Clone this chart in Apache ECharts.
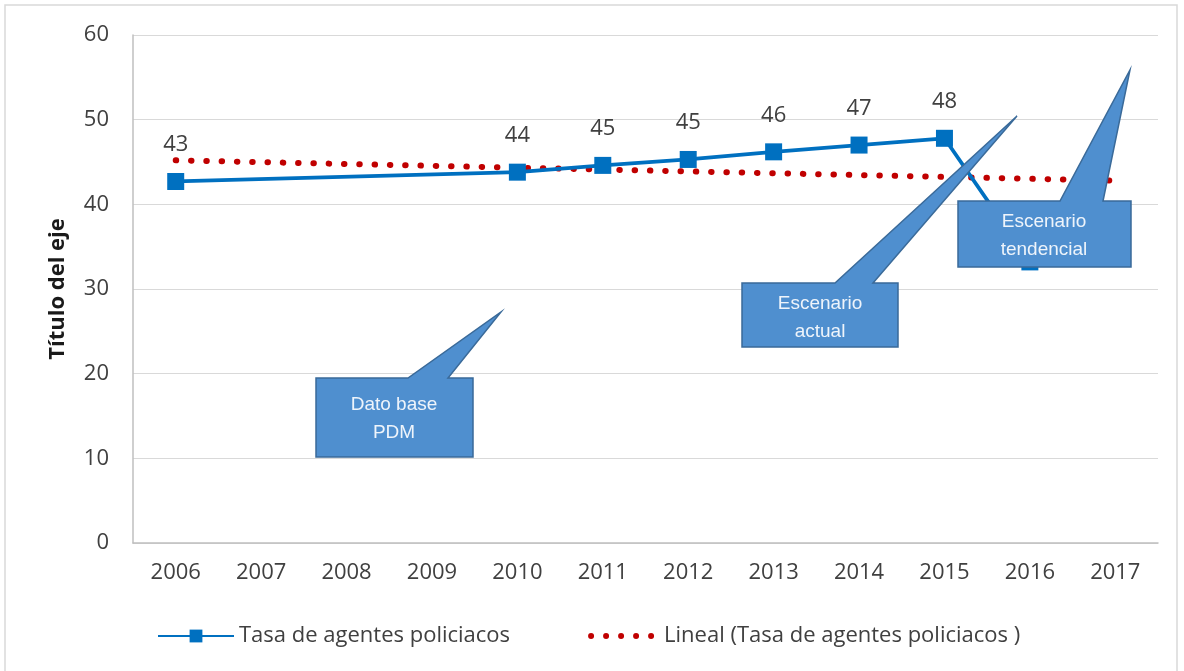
<!DOCTYPE html>
<html>
<head>
<meta charset="utf-8">
<script src="https://cdn.jsdelivr.net/npm/echarts@6/dist/echarts.min.js"></script>
<style>
  html, body { margin: 0; padding: 0; background: #fff; }
  #chart { width: 1184px; height: 671px; }
</style>
</head>
<body>
<div id="chart"></div>
<script>
var years = ['2006', '2007', '2008', '2009', '2010', '2011', '2012', '2013', '2014', '2015', '2016', '2017'];
var tasa = [42.7, null, null, null, 43.8, 44.6, 45.3, 46.2, 47.0, 47.8, 33.2, null];
// linear trend, read at both ends of the axis
var trendYears = ['2006', '2017'];
var trendValues = [45.2, 42.8];
var yTicks = { min: 0, max: 60, interval: 10 };

var chart = echarts.init(document.getElementById('chart'));

var mainFont = '"Open Sans", sans-serif';
var calloutFill = '#4f8fcf';
var calloutStroke = '#3a6a99';
var calloutFont = '"Liberation Sans Narrow", "Arial Narrow", "Liberation Sans", sans-serif';

function callout(points, cx, cy, text) {
    return {
        type: 'group',
        children: [{
            type: 'polygon',
            z: 100,
            shape: { points: points },
            style: { fill: calloutFill, stroke: calloutStroke, lineWidth: 1.5 }
        }, {
            type: 'text',
            z: 101,
            x: cx,
            y: cy,
            style: {
                text: text,
                fill: '#eef4fb',
                font: '19px ' + calloutFont,
                align: 'center',
                verticalAlign: 'middle',
                lineHeight: 28
            }
        }]
    };
}

// five red dots for the trend legend icon (the two moves fix its box)
var dotIcon = 'path://M0,0 M74,16';
[7, 22, 37, 52, 67].forEach(function(cx) {
    dotIcon += ' M' + (cx - 3) + ',8 a3,3 0 1,0 6,0 a3,3 0 1,0 -6,0 Z';
});

var trendData = trendYears.map(function(y, i) { return [y, trendValues[i]]; });

var option = {
    animation: false,
    textStyle: { fontFamily: mainFont },
    grid: { left: 133, right: 26, top: 35, bottom: 128 },
    legend: {
        left: 152,
        top: 620,
        itemWidth: 76,
        itemHeight: 16,
        itemGap: 74,
        textStyle: { fontSize: 22, color: '#404040', fontFamily: mainFont },
        data: [
            { name: 'Tasa de agentes policiacos' },
            { name: 'Lineal (Tasa de agentes policiacos )', icon: dotIcon, itemStyle: { color: '#c00000' } }
        ]
    },
    xAxis: {
        type: 'category',
        data: years,
        axisLine: { lineStyle: { color: '#bfbfbf', width: 1.5 } },
        axisTick: { show: false },
        axisLabel: { color: '#404040', fontSize: 22, margin: 19 }
    },
    yAxis: {
        type: 'value',
        min: yTicks.min,
        max: yTicks.max,
        interval: yTicks.interval,
        name: 'Título del eje',
        nameLocation: 'middle',
        nameGap: 64,
        nameTextStyle: { fontSize: 22, fontWeight: 'bold', color: '#1a1a1a', fontFamily: mainFont },
        axisLine: { show: true, lineStyle: { color: '#bfbfbf', width: 1.5 } },
        axisTick: { show: false },
        axisLabel: { color: '#404040', fontSize: 22, margin: 24 },
        splitLine: { lineStyle: { color: '#d9d9d9', width: 1.2 } }
    },
    series: [{
        name: 'Tasa de agentes policiacos',
        type: 'line',
        data: tasa,
        connectNulls: true,
        symbol: 'rect',
        symbolSize: 17,
        itemStyle: { color: '#0070c0' },
        lineStyle: { color: '#0070c0', width: 3.8 },
        label: {
            show: true,
            position: 'top',
            distance: 17,
            fontSize: 22,
            color: '#404040',
            formatter: function(p) { return Math.round(p.value); }
        },
        z: 3
    }, {
        name: 'Lineal (Tasa de agentes policiacos )',
        type: 'line',
        data: trendData,
        symbol: 'none',
        itemStyle: { color: '#c00000' },
        lineStyle: { color: '#c00000', width: 6, type: [0.5, 14.8], cap: 'round' },
        z: 2
    }],
    graphic: [{
        type: 'rect',
        shape: { x: 5, y: 5, width: 1172, height: 680 },
        style: { fill: 'none', stroke: '#d9d9d9', lineWidth: 1.5 },
        silent: true
    },
    callout([[316, 378], [408, 378], [501, 312], [448, 378], [473, 378], [473, 457], [316, 457]],
        394, 419, 'Dato base\nPDM'),
    callout([[742, 283], [835, 283], [1017, 116], [873, 283], [898, 283], [898, 347], [742, 347]],
        820, 318, 'Escenario\nactual'),
    callout([[958, 201], [1060, 201], [1130, 70], [1103, 201], [1131, 201], [1131, 267], [958, 267]],
        1044, 236, 'Escenario\ntendencial')]
};

chart.setOption(option);
</script>
</body>
</html>
